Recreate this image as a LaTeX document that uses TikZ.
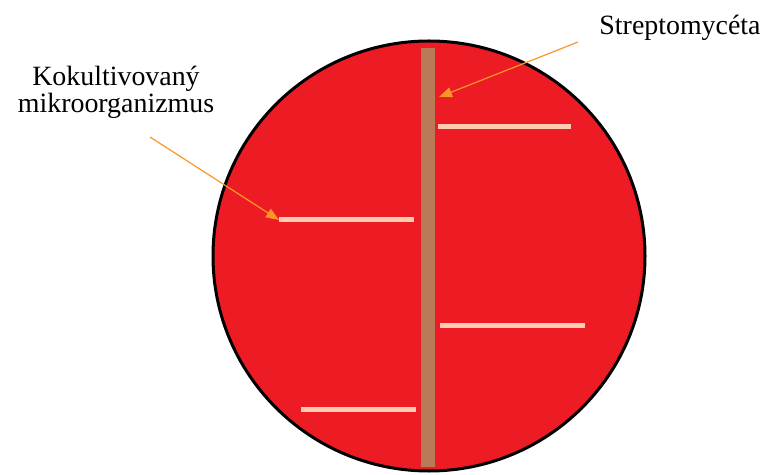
\documentclass[tikz,border=0pt]{standalone}
\usepackage{fontspec}
\setmainfont{Liberation Serif}
\newfontfamily\labelfont{Liberation Serif}
\usetikzlibrary{arrows.meta}
\definecolor{agar}{RGB}{237,28,36}
\definecolor{streak}{RGB}{185,122,87}
\definecolor{culture}{RGB}{255,204,178}
\definecolor{pointer}{RGB}{250,150,40}
\tikzset{
  lbl/.style={inner sep=0pt, font=\labelfont\fontsize{28}{27}\selectfont},
  growth/.style={draw=culture, line width=5bp},
  pointarrow/.style={draw=pointer, line width=1.2bp, -{Triangle[length=13bp,width=10bp]}}
}
\begin{document}
\begin{tikzpicture}[x=1bp, y=-1bp]
\useasboundingbox (0,0) rectangle (771,475);
% petri dish with the streptomycete streak in the middle
\draw[fill=agar, line width=3bp] (429,256) circle[x radius=216bp, y radius=215bp];
\fill[streak] (421,48) rectangle (435,467);
% cross streaks of the cocultivated microorganism
\draw[growth] (438,127) coordinate (r1w) -- (571,127) coordinate (r1e);
\draw[growth] (279,220) coordinate (l1w) -- (414,220) coordinate (l1e);
\draw[growth] (440,326) coordinate (r2w) -- (585,326) coordinate (r2e);
\draw[growth] (301,409) coordinate (l2w) -- (416,409) coordinate (l2e);
\node[lbl, align=center] (kok) at (116,92) {Kokultivovaný\\mikroorganizmus};
\node[lbl, anchor=base] (strep) at (680,35) {Streptomycéta};
\coordinate (kokt) at (150,137);
\coordinate (strept) at (578,42);
\coordinate (streph) at (439,97);
\draw[pointarrow] (kokt) -- (l1w);
\draw[pointarrow] (strept) -- (streph);
\end{tikzpicture}
\end{document}
